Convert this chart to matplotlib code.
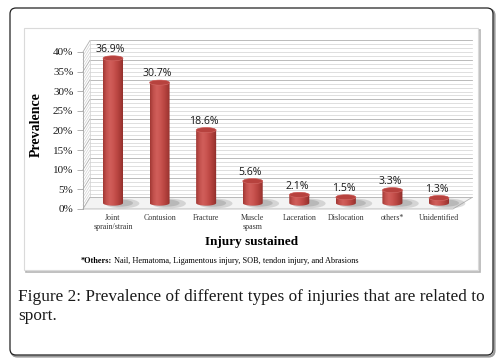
import matplotlib.pyplot as plt
import numpy as np
from matplotlib.patches import Polygon, Ellipse, Rectangle, FancyBboxPatch
from matplotlib.colors import LinearSegmentedColormap
from matplotlib.transforms import IdentityTransform

# data
injuries = ['Joint\nsprain/strain', 'Contusion', 'Fracture', 'Muscle\nspasm',
            'Laceration', 'Dislocation', 'others*', 'Unidentified']
prevalence = [36.9, 30.7, 18.6, 5.6, 2.1, 1.5, 3.3, 1.3]
yticks = [0, 5, 10, 15, 20, 25, 30, 35, 40]
ytick_labels = [f'{t}%' for t in yticks]
value_labels = [f'{v}%' for v in prevalence]

caption = ['Figure 2: Prevalence of different types of injuries that are related to',
           'sport.']
note_bold = '*Others:'
note_rest = ' Nail, Hematoma, Ligamentous injury, SOB, tendon injury, and Abrasions'

serif = ['Liberation Serif', 'DejaVu Serif']

fig = plt.figure(figsize=(5.01, 3.64), dpi=100)
W, H = 501, 364

# outer rounded frame + inner chart frame (pixel coords)
px = IdentityTransform()
fig.add_artist(FancyBboxPatch((11.5, 7.5), 483, 347, boxstyle='round,pad=0,rounding_size=6',
                              transform=px, fc='none', ec='#9a9a9a', lw=1.6, zorder=-3))
fig.add_artist(FancyBboxPatch((10, 9), 483, 347, boxstyle='round,pad=0,rounding_size=6',
                              transform=px, fc='white', ec='#222222', lw=0.9, zorder=-2))
fig.add_artist(Rectangle((25.5, 92.5), 454, 242, transform=px, fc='none', ec='#b5b5b5', lw=1.2,
                         zorder=-1.5))
fig.add_artist(Rectangle((24, 94), 454, 242, transform=px, fc='white', ec='#dadada', lw=0.8,
                         zorder=-1))

ax = fig.add_axes([83 / W, (H - 212.9) / H, 397.9 / W, 176.6 / H])
ax.set_facecolor('none')
ax.set_zorder(2)

# 3d box geometry (front plane = axis coords)
fl, fr = -0.644, 7.30
bl, br = -0.494, 7.71
dy = 2.93
top = yticks[-1]

ax.add_patch(Polygon([(bl, dy), (br, dy), (br, top + dy), (bl, top + dy)],
                     closed=True, fc='white', ec='none', zorder=0.5))
ax.add_patch(Polygon([(fl, 0), (fr, 0), (br, dy), (bl, dy)], closed=True,
                     fc='#f3f3f3', ec='#b5b5b5', lw=0.6, zorder=1))
for g in range(0, top + 1):
    major = g % 5 == 0
    c = '#b0b0b0' if major else '#d2d2d2'
    lw = 0.6 if major else 0.5
    ax.plot([bl, br], [g + dy, g + dy], color=c, lw=lw, zorder=0.8, clip_on=False)
    ax.plot([fl, bl], [g, g + dy], color=c, lw=lw, zorder=0.8, clip_on=False)
ax.plot([bl, bl], [dy, top + dy], color='#d0d0d0', lw=0.5, zorder=0.8)

# cylinders
r = 0.215
e = 0.65
base = 1.5
cyl = LinearSegmentedColormap.from_list(
    'cyl', ['#a13834', '#c4524e', '#d05e5a', '#ca5551', '#bc4743', '#a83b37', '#8c2c29'])
grad = np.linspace(0, 1, 64).reshape(1, -1)
t_bot = np.linspace(np.pi, 2 * np.pi, 40)
t_top = np.linspace(0, np.pi, 40)

for i, v in enumerate(prevalence):
    xc = i
    yt = base + v
    ax.add_patch(Ellipse((xc + 0.2, base - 0.1), 2 * r * 1.7, 2 * e * 1.9,
                         fc='#8f8f8f', ec='none', alpha=0.3, zorder=1.6))
    ax.add_patch(Ellipse((xc + 0.15, base), 2 * r * 1.3, 2 * e * 1.4,
                         fc='#7a7a7a', ec='none', alpha=0.3, zorder=1.7))
    verts = np.vstack([
        np.column_stack([xc + r * np.cos(t_bot), base + e * np.sin(t_bot)]),
        np.column_stack([xc + r * np.cos(t_top), yt + e * np.sin(t_top)]),
    ])
    body = Polygon(verts, closed=True, fc='none', ec='none', zorder=3)
    ax.add_patch(body)
    im = ax.imshow(grad, cmap=cyl, aspect='auto', zorder=3,
                   extent=(xc - r, xc + r, base - e, yt + e), interpolation='bilinear')
    im.set_clip_path(body)
    ax.add_patch(Ellipse((xc, yt), 2 * r, 2 * e, fc='#b7423e', ec='#d46c68', lw=0.4, zorder=4))
    ax.text(xc - 0.05, yt + 0.85, value_labels[i], ha='center', va='bottom',
            fontsize=7.6, family=['Open Sans', 'DejaVu Sans'], color='#1a1a1a', zorder=5)

ax.set_xlim(fl, 7.9)
ax.set_ylim(-1, 44)
ax.set_yticks(yticks)
ax.set_yticklabels(ytick_labels, family=serif, fontsize=8, color='#1a1a1a')
ax.set_xticks(range(len(injuries)))
ax.set_xticklabels(injuries, family=serif, fontsize=5.7, color='#333333', linespacing=1.15)
ax.tick_params(axis='y', length=4, width=0.6, color='#a6a6a6', pad=3)
ax.tick_params(axis='x', length=0, pad=1)
for s in ['top', 'right', 'bottom']:
    ax.spines[s].set_visible(False)
ax.spines['left'].set_color('#a6a6a6')
ax.spines['left'].set_linewidth(0.6)
ax.spines['left'].set_bounds(0, top)

fig.text(252 / W, 1 - 242 / H, 'Injury sustained', ha='center', va='center',
         family=serif, fontsize=9.5, fontweight='bold')
fig.text(36 / W, 1 - 125 / H, 'Prevalence', ha='center', va='center', rotation=90,
         family=serif, fontsize=10, fontweight='bold')

# footnote: bold lead-in then regular text
t1 = fig.text(81 / W, 1 - 261 / H, note_bold, ha='left', va='center',
              family=serif, fontsize=5.95, fontweight='bold')
fig.canvas.draw()
bb = t1.get_window_extent()
fig.text(bb.x1 / W, 1 - 261 / H, note_rest, ha='left', va='center',
         family=serif, fontsize=5.95)

fig.text(18 / W, 1 - 297 / H, caption[0], ha='left', va='center',
         family=serif, fontsize=12.4, color='#1a1a1a')
fig.text(18 / W, 1 - 316 / H, caption[1], ha='left', va='center',
         family=serif, fontsize=12.4, color='#1a1a1a')

fig.savefig('out.png', dpi=100)
